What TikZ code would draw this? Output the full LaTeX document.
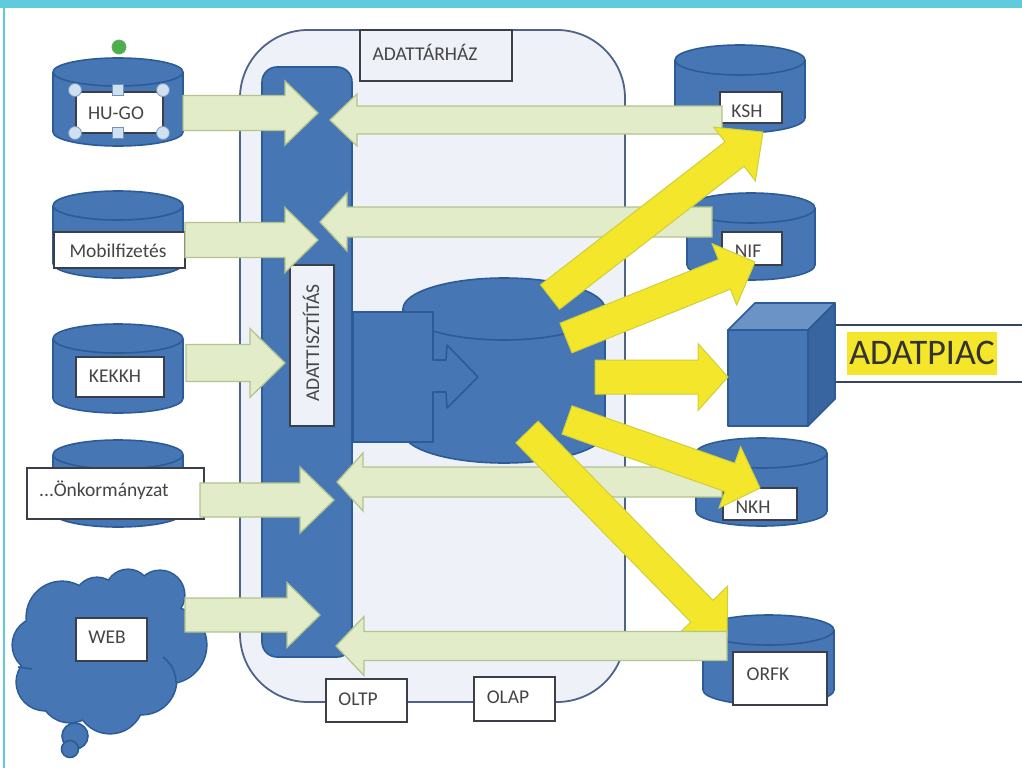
\documentclass[tikz,border=0pt]{standalone}
\usepackage{fontspec}
\setmainfont{Carlito}
\usetikzlibrary{calc}
\definecolor{teal1}{HTML}{5FCBDC}
\definecolor{blueF}{HTML}{4676B4}
\definecolor{blueD}{HTML}{2C5C98}
\definecolor{blueL}{HTML}{6C93C6}
\definecolor{blueS}{HTML}{38659F}
\definecolor{paleB}{HTML}{EEF2F8}
\definecolor{frameC}{HTML}{4F6288}
\definecolor{boxC}{HTML}{3A3F4A}
\definecolor{txt}{HTML}{454545}
\definecolor{greenF}{HTML}{E2ECC9}
\definecolor{greenD}{HTML}{B3C48E}
\definecolor{yelF}{HTML}{F3E62B}
\definecolor{yelD}{HTML}{CFCF3A}
\definecolor{handleC}{HTML}{CFE0EE}
\tikzset{
  x=1pt,y=-1pt,
  bluepart/.style={fill=blueF,draw=blueD,line width=1.6pt,line join=round},
  labelbox/.style={draw=boxC,fill=white,line width=1.5pt,inner sep=0pt,outer sep=0pt,anchor=north west},
  labeltext/.style={text=txt,inner sep=0pt,font=\fontsize{19.5}{19.5}\selectfont},
  greenarrow/.style={fill=greenF,draw=greenD,line width=1.3pt,line join=miter},
  yellowarrow/.style={fill=yelF,draw=yelD,line width=1pt,line join=miter},
  handleround/.style={circle,fill=handleC,draw=blueS!70,line width=.8pt,minimum size=13pt,inner sep=0pt},
  handlesquare/.style={rectangle,fill=handleC,draw=blueS!70,line width=.8pt,minimum size=11pt,inner sep=0pt},
}
\newcommand\cyl[6]{%
  \pgfmathsetmacro\cxx{(#2+#3)/2}%
  \pgfmathsetmacro\rxx{(#3-#2)/2}%
  \pgfmathsetmacro\ytt{#4+#6}%
  \pgfmathsetmacro\ybb{#5-#6}%
  \pgfmathsetmacro\ybc{#5-#6*.45}%
  \pgfmathsetmacro\kxa{\cxx-.55*\rxx}%
  \pgfmathsetmacro\kxb{\cxx+.55*\rxx}%
  \coordinate (#1) at (\cxx,\ytt);
  \draw[bluepart] (#2,\ytt) -- (#2,\ybb) .. controls (#2,\ybc) and (\kxa,#5) .. (\cxx,#5)
     .. controls (\kxb,#5) and (#3,\ybc) .. (#3,\ybb) -- (#3,\ytt);
  \draw[bluepart] (\cxx,\ytt) ellipse [x radius=\rxx,y radius=#6];
}
\newcommand\lab[8]{%
  \pgfmathsetmacro\www{#3-#2}%
  \pgfmathsetmacro\hhh{#5-#4}%
  \node[labelbox,minimum width=\www pt,minimum height=\hhh pt] (#1) at (#2,#4) {};
  \node[labeltext] (#1-t) at (#6,#7) {#8};
}
\newcommand\blockarrow[7]{%
  \coordinate (#2-s) at (#3);
  \coordinate (#2-e) at (#4);
  \coordinate (#2-b) at ($(#2-e)!#7pt!(#2-s)$);
  \pgfmathsetmacro\bw{#5/2}%
  \pgfmathsetmacro\hw{#6/2}%
  \draw[#1] ($(#2-s)!\bw pt!90:(#2-e)$) -- ($(#2-b)!\bw pt!-90:(#2-s)$) -- ($(#2-b)!\hw pt!-90:(#2-s)$)
    -- (#2-e) -- ($(#2-b)!\hw pt!90:(#2-s)$) -- ($(#2-b)!\bw pt!90:(#2-s)$) -- ($(#2-s)!\bw pt!-90:(#2-e)$) -- cycle;
}
\begin{document}
\begin{tikzpicture}
\useasboundingbox (0,0) rectangle (1022,768);
\fill[white] (0,0) rectangle (1022,768);
\fill[teal1] (0,0) rectangle (1022,8);
\fill[teal1] (3,0) rectangle (5,768);
% warehouse frame
\node[draw=frameC,fill=paleB,line width=1.8pt,rounded corners=68pt,minimum width=385pt,minimum height=672pt,anchor=north west,inner sep=0pt,outer sep=0pt] (dw) at (240,30) {};
\node[draw=boxC,fill=paleB,line width=1.5pt,minimum width=152pt,minimum height=51pt,anchor=north west,inner sep=0pt,outer sep=0pt] (dwbox) at (360,30) {};
\node[labeltext] (dwtext) at (425,52) {ADATTÁRHÁZ};
% cleaning bar
\node[bluepart,rounded corners=15pt,minimum width=90pt,minimum height=590pt,anchor=north west,inner sep=0pt,outer sep=0pt] (bar) at (262,67) {};
\node[draw=boxC,fill=paleB,line width=1.2pt,minimum width=44pt,minimum height=161pt,anchor=north west,inner sep=0pt,outer sep=0pt] (clean) at (290,265) {};
\node[labeltext,rotate=90] (cleantext) at (311,343) {ADATTISZTÍTÁS};
% left sources
\cyl{c1}{53}{183}{58}{146}{14}
\lab{l1}{76}{163}{92}{133}{116}{113}{HU-GO}
\cyl{c2}{53}{183}{191}{278}{14.5}
\lab{l2}{54}{185}{232}{268}{118}{251}{Mobilfizetés}
\cyl{c3}{53}{183}{324}{413}{14.5}
\lab{l3}{76}{164}{357}{397}{115}{376}{KEKKH}
\cyl{c4}{53}{183}{440}{527}{14.5}
\lab{l4}{27}{204}{468}{519}{104}{490}{...Önkormányzat}
% selection handles
\node[circle,fill=green!55!black!70!white,draw=green!45!black!60,line width=.8pt,minimum size=14pt,inner sep=0pt] (rot) at (119,47) {};
\node[handleround] (h1) at (75,90) {};
\node[handlesquare] (h2) at (118,90) {};
\node[handleround] (h3) at (163,90) {};
\node[handleround] (h4) at (75,133) {};
\node[handlesquare] (h5) at (118,133) {};
\node[handleround] (h6) at (163,133) {};
% cloud: lobes outlined, then filled without outline
\draw[bluepart] (75,736) circle [radius=13];
\draw[bluepart] (70,749) circle [radius=8.5];
\foreach \lx/\ly/\lr in {62/617/35,97/600/22,128/592/22,160/595/24,168/645/38,142/680/34,110/700/33,70/692/30,45/682/28,40/645/27}
  \draw[blueD,line width=3.2pt] (\lx,\ly) circle [radius=\lr];
\foreach \lx/\ly/\lr in {62/617/35,97/600/22,128/592/22,160/595/24,168/645/38,142/680/34,110/700/33,70/692/30,45/682/28,40/645/27,105/645/48,135/630/42}
  \fill[blueF] (\lx,\ly) circle [radius=\lr];
\draw[blueD,line width=1.6pt] (163,657) to[bend left=25] (176,683);
\draw[blueD,line width=1.6pt] (18,667) -- (32,669);
\lab{l5}{76}{147}{618}{661}{107}{637}{WEB}
% right targets
\cyl{c6}{675}{805}{45}{133}{15}
\lab{l6}{720}{782}{92}{123}{747}{111}{KSH}
\cyl{c7}{687}{815}{193}{280}{15}
\lab{l7}{722}{782}{232}{265}{748}{251}{NIF}
\cyl{c8}{696}{827}{438}{526}{15}
\lab{l8}{723}{797}{488}{520}{753}{507}{NKH}
\cyl{c9}{703}{834}{615}{705}{15}
\lab{l9}{733}{827}{652}{705}{768}{674}{ORFK}
% bottom boxes
\lab{l10}{326}{407}{679}{722}{358}{699}{OLTP}
\lab{l11}{474}{555}{677}{721}{508}{697}{OLAP}
% cube
\coordinate (cubeA) at (835,325);
\coordinate (cubeB) at (835,382);
\coordinate (edgeA) at (1022,325);
\coordinate (edgeB) at (1022,382);
\draw[frameC!70!black,line width=1.6pt] (cubeA) -- (edgeA);
\draw[frameC!70!black,line width=1.6pt] (cubeB) -- (edgeB);
\draw[bluepart,fill=blueF] (728,330) rectangle (808,426);
\draw[bluepart,fill=blueL] (728,330) -- (755,303) -- (835,303) -- (808,330) -- cycle;
\draw[bluepart,fill=blueS] (808,330) -- (835,303) -- (835,399) -- (808,426) -- cycle;
\node[fill=yelF,minimum width=150pt,minimum height=43pt,inner sep=0pt,font=\fontsize{36}{36}\selectfont,text=black!80] (mart) at (922,353) {ADATPIAC};
% central cylinder
\cyl{c0}{403}{605}{278}{463}{31}
\draw[bluepart] (353,312) -- (433,312) -- (433,360) -- (446,360) -- (447,345) -- (478,377) -- (447,408) -- (446,392) -- (433,392) -- (433,442) -- (353,442) -- cycle;
% green arrows
\blockarrow{greenarrow}{g1}{183,113}{318,113}{35}{64}{33}
\blockarrow{greenarrow}{g2}{185,240}{318,240}{35}{65}{33}
\blockarrow{greenarrow}{g3}{186,363}{285,363}{37}{69}{35}
\blockarrow{greenarrow}{g4}{200,500}{334,500}{34}{66}{34}
\blockarrow{greenarrow}{g5}{185,615}{320,615}{34}{65}{33}
\blockarrow{greenarrow}{g6}{722,120}{330,120}{28}{52}{27}
\blockarrow{greenarrow}{g7}{712,222}{320,222}{30}{58}{27}
\blockarrow{greenarrow}{g8}{722,482}{337,482}{30}{58}{26}
% yellow arrows
\blockarrow{yellowarrow}{y1}{550,297}{763,132}{31}{68}{36}
\blockarrow{yellowarrow}{y2}{566,338}{755,262}{32}{66}{33}
\blockarrow{yellowarrow}{y3}{595,377}{728,377}{34}{67}{30}
\blockarrow{yellowarrow}{y4}{567,420}{760,488}{30}{65}{32}
\blockarrow{yellowarrow}{y5}{527,432}{727,637}{31}{72}{36}
\blockarrow{greenarrow}{g9}{727,646}{336,646}{29}{59}{28}
\end{tikzpicture}
\end{document}
